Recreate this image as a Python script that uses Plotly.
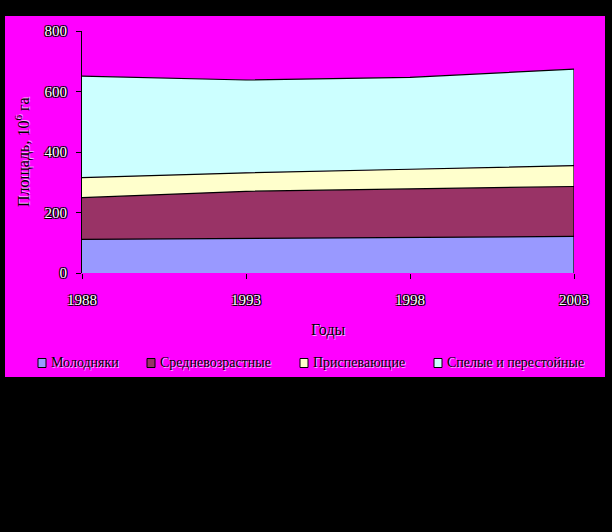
import plotly.graph_objects as go

years = [1988, 1993, 1998, 2003]
series_names = ["Молодняки", "Средневозрастные", "Приспевающие", "Спелые и перестойные"]
young = [111, 114, 118, 121]
middle = [138, 156, 160, 165]
premature = [66, 61, 65, 69]
mature = [336, 307, 304, 319]
series_values = [young, middle, premature, mature]
colors = ["#9999FF", "#993366", "#FFFFCC", "#CCFFFF"]
y_ticks = [0, 200, 400, 600, 800]

FONT = "Liberation Serif"
W, H = 612, 532
L, R, T, B = 82, 38, 31, 259
PW, PH = W - L - R, H - T - B

def px2paper(x, y):
    return (x - L) / PW, (H - B - y) / PH

white_outline = "1px 1px 0 #000, -1px -1px 0 #000, 1px -1px 0 #000, -1px 1px 0 #000"
black_halo = "1px 1px 0 rgba(255,255,255,0.7)"

fig = go.Figure()
for name, vals, col in zip(series_names, series_values, colors):
    fig.add_trace(go.Scatter(
        x=years, y=vals, name=name, mode="lines", stackgroup="one",
        line=dict(color="black", width=1.2), fillcolor=col, showlegend=False,
    ))

totals = [sum(v) for v in zip(*series_values)]
fig.add_trace(go.Scatter(x=[years[-1], years[-1]], y=[0, totals[-1]], mode="lines",
                         line=dict(color="black", width=1.2), showlegend=False, hoverinfo="skip"))

shapes = []
x0, y0 = px2paper(5, 16)
x1, y1 = px2paper(605, 377)
shapes.append(dict(type="rect", xref="paper", yref="paper", x0=x0, y0=y1, x1=x1, y1=y0,
                   fillcolor="#FF00FF", line=dict(width=0), layer="below"))

annotations = []
sq_x = [38, 147, 300, 434]
txt_x = [49, 158, 311, 445]
ly = 363
for name, col, sx, tx in zip(series_names, colors, sq_x, txt_x):
    a0, b0 = px2paper(sx, ly - 4.5)
    a1, b1 = px2paper(sx + 8, ly + 4.5)
    shapes.append(dict(type="rect", xref="paper", yref="paper", x0=a0, y0=b1, x1=a1, y1=b0,
                       fillcolor=col, line=dict(color="black", width=1)))
    ax, ay = px2paper(tx, ly)
    annotations.append(dict(text=name, xref="paper", yref="paper", x=ax, y=ay,
                            xanchor="left", yanchor="middle", showarrow=False,
                            font=dict(family=FONT, size=14, color="black", shadow=black_halo)))

gx, gy = px2paper(328, 330)
annotations.append(dict(text="Годы", xref="paper", yref="paper", x=gx, y=gy,
                        xanchor="center", yanchor="middle", showarrow=False,
                        font=dict(family=FONT, size=16, color="black", shadow=black_halo)))
tx_, ty_ = px2paper(22, 152)
annotations.append(dict(text="Площадь, 10<sup>6</sup> га", xref="paper", yref="paper", x=tx_, y=ty_,
                        xanchor="center", yanchor="middle", showarrow=False, textangle=-90,
                        font=dict(family=FONT, size=16, color="black", shadow=black_halo)))

fig.update_layout(
    width=W, height=H,
    margin=dict(l=L, r=R, t=T, b=B, pad=0),
    paper_bgcolor="black", plot_bgcolor="rgba(0,0,0,0)",
    showlegend=False,
    shapes=shapes, annotations=annotations,
    xaxis=dict(range=[years[0], years[-1]], tickvals=years, ticks="outside", ticklen=5,
               tickcolor="black", showline=False, showgrid=False, zeroline=False,
               ticklabelstandoff=8,
               tickfont=dict(family=FONT, size=15, color="white", shadow=white_outline)),
    yaxis=dict(range=[0, 800], tickvals=y_ticks, ticks="outside", ticklen=5, tickcolor="black",
               showline=True, linecolor="black", linewidth=1.2, showgrid=True, gridcolor="black",
               gridwidth=1, zeroline=False, ticklabelstandoff=6,
               tickfont=dict(family=FONT, size=15, color="white", shadow=white_outline)),
)

fig.write_html("out.html", config={"displayModeBar": False},
               post_script="document.body.style.margin='0';document.body.style.background='black';")
